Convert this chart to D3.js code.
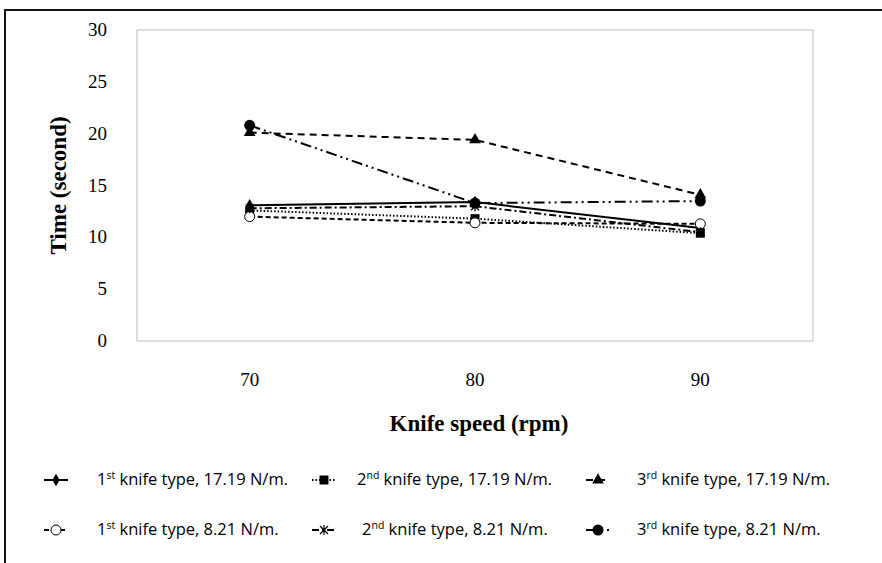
<!DOCTYPE html>
<html lang="en">
<head>
<meta charset="utf-8">
<script src="https://d3js.org/d3.v7.min.js"></script>
<style>
  body { margin: 0; background: #fff; }
  svg text { fill: #000; }
  .tick-lbl { font-family: "Liberation Serif", "Times New Roman", serif; font-size: 19px; }
  .axis-title { font-family: "Liberation Serif", "Times New Roman", serif; font-weight: bold; font-size: 23px; }
  .leg { font-family: "Open Sans", sans-serif; font-size: 16.5px; }
</style>
</head>
<body>
<svg id="chart" width="882" height="563"></svg>
<script>
// Data
var speeds = ["70", "80", "90"];
var yTicks = [0, 5, 10, 15, 20, 25, 30];

var knife1_1719 = [13.1, 13.4, 10.9];
var knife2_1719 = [12.6, 11.8, 10.4];
var knife3_1719 = [20.1, 19.4, 14.1];
var knife1_821  = [12.0, 11.4, 11.3];
var knife2_821  = [12.8, 13.0, 10.5];
var knife3_821  = [20.8, 13.3, 13.5];

var series = [
  {ord: "1", sup: "st", lab: " knife type, 17.19 N/m.", values: knife1_1719, dash: null,        marker: "diamond"},
  {ord: "2", sup: "nd", lab: " knife type, 17.19 N/m.", values: knife2_1719, dash: "1.5,2",     marker: "square"},
  {ord: "3", sup: "rd", lab: " knife type, 17.19 N/m.", values: knife3_1719, dash: "7,5",       marker: "triangle"},
  {ord: "1", sup: "st", lab: " knife type, 8.21 N/m.",  values: knife1_821,  dash: "5,3",       marker: "ocircle"},
  {ord: "2", sup: "nd", lab: " knife type, 8.21 N/m.",  values: knife2_821,  dash: "7,3,2,3",   marker: "star"},
  {ord: "3", sup: "rd", lab: " knife type, 8.21 N/m.",  values: knife3_821,  dash: "11,4,2,4,2,4", marker: "circle"}
];

var svg = d3.select("#chart");

// outer border
svg.append("rect").attr("x", 5).attr("y", 10).attr("width", 900).attr("height", 600)
  .attr("fill", "none").attr("stroke", "#111").attr("stroke-width", 2);

var mLeft = 137, mRight = 813, mTop = 30, mBottom = 341;

var x = d3.scaleBand().domain(speeds).range([mLeft, mRight]);
var y = d3.scaleLinear().domain([0, 30]).range([mBottom, mTop]);

// plot frame
svg.append("rect").attr("x", mLeft).attr("y", mTop)
  .attr("width", mRight - mLeft).attr("height", mBottom - mTop)
  .attr("fill", "none").attr("stroke", "#bdbdbd").attr("stroke-width", 1);

// y tick labels
svg.selectAll(".ylbl").data(yTicks).enter().append("text")
  .attr("class", "tick-lbl").attr("text-anchor", "end")
  .attr("x", 107).attr("y", function(d) { return y(d) + 6; })
  .text(function(d) { return d; });

// x tick labels
svg.selectAll(".xlbl").data(speeds).enter().append("text")
  .attr("class", "tick-lbl").attr("text-anchor", "middle")
  .attr("x", function(d) { return x(d) + x.bandwidth() / 2; })
  .attr("y", 386)
  .text(function(d) { return d; });

svg.append("text").attr("class", "axis-title").attr("text-anchor", "middle")
  .attr("transform", "translate(66," + ((mTop + mBottom) / 2) + ") rotate(-90)")
  .text("Time (second)");
svg.append("text").attr("class", "axis-title").attr("text-anchor", "middle")
  .attr("x", 479).attr("y", 431).text("Knife speed (rpm)");

function cx(i) { return x(speeds[i]) + x.bandwidth() / 2; }

function drawMarker(g, type, px, py) {
  if (type === "diamond") {
    g.append("path").attr("d", d3.symbol(d3.symbolDiamond, 45)()).attr("transform", "translate(" + px + "," + py + ")").attr("fill", "#000");
  } else if (type === "square") {
    g.append("rect").attr("x", px - 4.5).attr("y", py - 4.5).attr("width", 9).attr("height", 9).attr("fill", "#000");
  } else if (type === "triangle") {
    g.append("path").attr("d", d3.symbol(d3.symbolTriangle, 60)()).attr("transform", "translate(" + px + "," + py + ")").attr("fill", "#000");
  } else if (type === "ocircle") {
    g.append("circle").attr("cx", px).attr("cy", py).attr("r", 5).attr("fill", "#fff").attr("stroke", "#000").attr("stroke-width", 1);
  } else if (type === "star") {
    var s = 4;
    var p = "M" + (px - s) + "," + (py - s) + "L" + (px + s) + "," + (py + s) +
            "M" + (px + s) + "," + (py - s) + "L" + (px - s) + "," + (py + s) +
            "M" + px + "," + (py - s - 1) + "L" + px + "," + (py + s + 1);
    g.append("path").attr("d", p).attr("stroke", "#000").attr("stroke-width", 1.2).attr("fill", "none");
  } else if (type === "circle") {
    g.append("circle").attr("cx", px).attr("cy", py).attr("r", 5.5).attr("fill", "#000");
  }
}

var line = d3.line().x(function(d, i) { return cx(i); }).y(function(d) { return y(d); });

var plot = svg.append("g");
series.forEach(function(s) {
  plot.append("path").datum(s.values)
    .attr("d", line).attr("fill", "none").attr("stroke", "#000")
    .attr("stroke-width", 2).attr("stroke-dasharray", s.dash);
});
series.forEach(function(s) {
  s.values.forEach(function(v, i) { drawMarker(plot, s.marker, cx(i), y(v)); });
});

// legend
var legCols = [{sx: 44, tx: 97}, {sx: 312, tx: 357}, {sx: 586, tx: 637}];
var legRows = [480, 530];
var leg = svg.append("g");
series.forEach(function(s, i) {
  var c = legCols[i % 3], ry = legRows[Math.floor(i / 3)];
  var tx = c.tx + (i === 4 ? 5 : 0);
  leg.append("line").attr("x1", c.sx).attr("x2", c.sx + 24).attr("y1", ry).attr("y2", ry)
    .attr("stroke", "#000").attr("stroke-width", 2).attr("stroke-dasharray", s.dash);
  drawMarker(leg, s.marker, c.sx + 12, ry);
  var t = leg.append("text").attr("class", "leg").attr("x", tx).attr("y", ry + 5);
  t.append("tspan").text(s.ord);
  t.append("tspan").attr("dy", -6).attr("font-size", "10.5px").text(s.sup);
  t.append("tspan").attr("dy", 6).text(s.lab);
});
</script>
</body>
</html>
